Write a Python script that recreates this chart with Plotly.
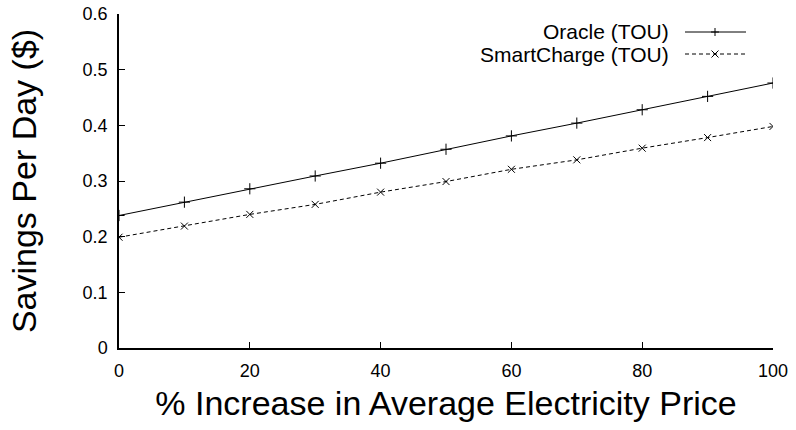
import plotly.graph_objects as go

pct_increase = [0, 10, 20, 30, 40, 50, 60, 70, 80, 90, 100]
oracle_tou = [0.238, 0.262, 0.286, 0.309, 0.332, 0.357, 0.381, 0.404, 0.428, 0.452, 0.476]
smartcharge_tou = [0.199, 0.219, 0.240, 0.258, 0.280, 0.299, 0.321, 0.338, 0.359, 0.378, 0.398]
series_names = ["Oracle (TOU)", "SmartCharge (TOU)"]
x_ticks = [0, 20, 40, 60, 80, 100]
y_ticks = [0, 0.1, 0.2, 0.3, 0.4, 0.5, 0.6]
y_tick_text = ["0", "0.1", "0.2", "0.3", "0.4", "0.5", "0.6"]

FONT = "Liberation Sans, Arial, Helvetica, sans-serif"

fig = go.Figure()
fig.add_trace(go.Scatter(
    x=pct_increase, y=oracle_tou, name=series_names[0], mode="lines+markers",
    line=dict(color="black", width=1),
    marker=dict(symbol="cross-thin", size=8, line=dict(color="black", width=1)),
    showlegend=False,
))
fig.add_trace(go.Scatter(
    x=pct_increase, y=smartcharge_tou, name=series_names[1], mode="lines+markers",
    line=dict(color="black", width=1, dash="4px,3px"),
    marker=dict(symbol="x-thin", size=7, line=dict(color="black", width=1)),
    showlegend=False,
))

# custom legend (text on left, sample on right)
W, H = 796, 430
ml, mr, mt, mb = 119, 23, 14, 82
pw, ph = W - ml - mr, H - mt - mb

def px_x(p):
    return (p - ml) / pw

def px_y(p):
    return 1 - (p - mt) / ph

legend_rows = [(series_names[0], 32, "solid", "+"), (series_names[1], 54, "dash", "x")]
shapes = []
annotations = []
for name, yc, dash, sym in legend_rows:
    annotations.append(dict(
        x=px_x(671), y=px_y(yc), xref="paper", yref="paper", text=name,
        showarrow=False, xanchor="right", yanchor="middle",
        font=dict(family=FONT, size=21, color="black"),
    ))
    shapes.append(dict(
        type="line", xref="paper", yref="paper",
        x0=px_x(685), x1=px_x(746), y0=px_y(yc), y1=px_y(yc),
        line=dict(color="black", width=1, dash="solid" if dash == "solid" else "4px,3px"),
    ))
    mx = 715
    if sym == "+":
        shapes.append(dict(type="line", xref="paper", yref="paper",
                           x0=px_x(mx - 4), x1=px_x(mx + 4), y0=px_y(yc), y1=px_y(yc),
                           line=dict(color="black", width=1)))
        shapes.append(dict(type="line", xref="paper", yref="paper",
                           x0=px_x(mx), x1=px_x(mx), y0=px_y(yc - 4), y1=px_y(yc + 4),
                           line=dict(color="black", width=1)))
    else:
        shapes.append(dict(type="line", xref="paper", yref="paper",
                           x0=px_x(mx - 3.5), x1=px_x(mx + 3.5), y0=px_y(yc - 3.5), y1=px_y(yc + 3.5),
                           line=dict(color="black", width=1)))
        shapes.append(dict(type="line", xref="paper", yref="paper",
                           x0=px_x(mx - 3.5), x1=px_x(mx + 3.5), y0=px_y(yc + 3.5), y1=px_y(yc - 3.5),
                           line=dict(color="black", width=1)))

fig.update_layout(
    width=W, height=H,
    margin=dict(l=ml, r=mr, t=mt, b=mb, pad=0),
    paper_bgcolor="white", plot_bgcolor="white",
    font=dict(family=FONT, color="black"),
    shapes=shapes, annotations=annotations,
    showlegend=False,
)
fig.update_xaxes(
    range=[0, 100], tickvals=x_ticks, ticks="inside", ticklen=6, tickwidth=1, tickcolor="black",
    showline=True, linecolor="black", linewidth=1.5, showgrid=False, zeroline=False,
    tickfont=dict(family=FONT, size=18, color="black"),
    title=dict(text="% Increase in Average Electricity Price", font=dict(family=FONT, size=34, color="black"), standoff=11),
    ticklabelstandoff=6, automargin=False,
)
fig.update_yaxes(
    range=[0, 0.6], tickvals=y_ticks, ticktext=y_tick_text,
    ticks="inside", ticklen=6, tickwidth=1, tickcolor="black",
    showline=True, linecolor="black", linewidth=1.5, showgrid=False, zeroline=False,
    tickfont=dict(family=FONT, size=18, color="black"),
    title=dict(text="Savings Per Day ($)", font=dict(family=FONT, size=34, color="black"), standoff=36),
    ticklabelstandoff=6, automargin=False,
)

fig.write_html("out.html", config={"displayModeBar": False},
               post_script="document.body.style.margin='0px';document.body.style.overflow='hidden';")
